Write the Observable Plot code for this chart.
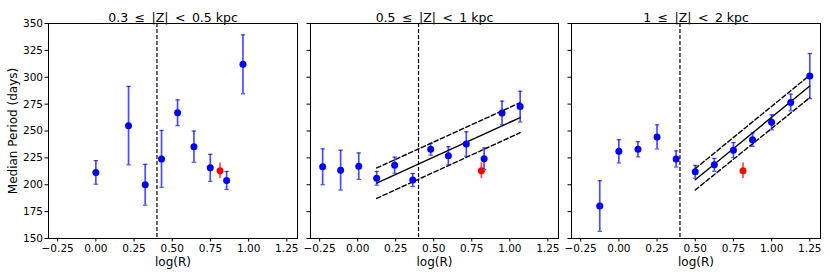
<!DOCTYPE html>
<html><head><meta charset="utf-8">
<script src="https://cdn.jsdelivr.net/npm/d3@7"></script>
<script src="https://cdn.jsdelivr.net/npm/@observablehq/plot@0.6"></script>
<style>
body{margin:0;background:#fff;}
#chart{position:relative;width:830px;height:277px;background:#fff;}
#chart svg{position:absolute;top:0;overflow:visible;}
</style></head><body><div id="chart"></div>
<script>
// ---- data ----
const panelTitles = ["0.3 \u2009\u2264\u2009 |Z| \u2009<\u2009 0.5 kpc", "0.5 \u2009\u2264\u2009 |Z| \u2009<\u2009 1 kpc", "1 \u2009\u2264\u2009 |Z| \u2009<\u2009 2 kpc"];
const xLabel = "log(R)";
const yLabel = "Median Period (days)";
const xTicks = [-0.25, 0, 0.25, 0.5, 0.75, 1.0, 1.25];
const yTicks = [150, 175, 200, 225, 250, 275, 300, 325, 350];
const xDomain = [-0.31, 1.32];
const yDomain = [150, 350];

const p1X   = [0.0, 0.214, 0.323, 0.43, 0.535, 0.642, 0.749, 0.856, 0.963];
const p1Y   = [211.5, 255, 200, 224, 267, 235.4, 215.7, 204, 312];
const p1Err = [11, 36.5, 19, 26.5, 12, 14.5, 12.6, 8.4, 27.4];

const p2X   = [-0.23, -0.112, 0.007, 0.125, 0.243, 0.362, 0.48, 0.596, 0.714, 0.831, 0.949, 1.068];
const p2Y   = [216.7, 213.6, 217.3, 206, 218.2, 204.5, 233, 226.9, 237.9, 224.2, 266.8, 272.7];
const p2Err = [16.7, 18.5, 12.3, 6.4, 7.5, 6, 5.5, 8.5, 11.4, 10, 11, 14.3];

const p3X   = [-0.125, 0, 0.125, 0.25, 0.375, 0.5, 0.625, 0.75, 0.875, 1.0, 1.125, 1.25];
const p3Y   = [180.2, 231.1, 233, 244.5, 224, 212, 218.5, 232.2, 241.9, 258.1, 276.5, 301.1];
const p3Err = [23.5, 10.8, 7.1, 11.2, 7.5, 6, 6, 7, 6.2, 7, 7.8, 21];

const refX = [0.813], refY = [213], refErr = [7.3];
const cutX = [0.4];

const fit2X = [0.125, 1.068];
const fit2Mid = [201.5, 262.5], fit2Up = [215.6, 276.4], fit2Lo = [187.3, 248.4];
const fit3X = [0.5, 1.25];
const fit3Mid = [204.6, 291.8], fit3Up = [215, 301.9], fit3Lo = [195.1, 281];

// ---- helpers ----
const rows = (xs, ys, es) => xs.map((x, i) => ({x, y: ys[i], lo: ys[i] - (es ? es[i] : 0), hi: ys[i] + (es ? es[i] : 0)}));
const capSymbol = {draw(ctx, size) { const w = Math.sqrt(size / Math.PI); ctx.moveTo(-w, 0); ctx.lineTo(w, 0); }};
const fmtX = d => d3.format(".2f")(d).replace("-", "\u2212");

const panels = [
  {left: 0,   width: 299, ml: 48, mr: 2,  pts: rows(p1X, p1Y, p1Err), fit: null},
  {left: 299, width: 261, ml: 11, mr: 2,  pts: rows(p2X, p2Y, p2Err), fit: {x: fit2X, mid: fit2Mid, up: fit2Up, lo: fit2Lo}},
  {left: 560, width: 270, ml: 11, mr: 10, pts: rows(p3X, p3Y, p3Err), fit: {x: fit3X, mid: fit3Mid, up: fit3Up, lo: fit3Lo}}
];
const ref = rows(refX, refY, refErr);

const chart = document.getElementById("chart");
panels.forEach((p, k) => {
  const marks = [
    Plot.frame({stroke: "#000", strokeWidth: 1}),
    Plot.axisY({ticks: yTicks, tickSize: 3.5, tickPadding: 2, tickFormat: k === 0 ? (d => d) : (() => ""), label: null, fontSize: 10.5}),
    Plot.axisX({ticks: xTicks, tickSize: 3.5, tickPadding: 2.5, tickFormat: fmtX, label: null, fontSize: 10.5}),
    Plot.ruleX(cutX, {stroke: "#000", strokeWidth: 1.2, strokeDasharray: "4,2"})
  ];
  if (p.fit) {
    const f = p.fit;
    const mk = arr => f.x.map((x, i) => ({x, y: arr[i]}));
    marks.push(
      Plot.line(mk(f.mid), {x: "x", y: "y", stroke: "#000", strokeWidth: 1.4}),
      Plot.line(mk(f.up), {x: "x", y: "y", stroke: "#000", strokeWidth: 1.4, strokeDasharray: "4.5,2.5"}),
      Plot.line(mk(f.lo), {x: "x", y: "y", stroke: "#000", strokeWidth: 1.4, strokeDasharray: "4.5,2.5"})
    );
  }
  marks.push(
    Plot.ruleX(p.pts, {x: "x", y1: "lo", y2: "hi", stroke: "blue", strokeOpacity: 0.7, strokeWidth: 1.7}),
    Plot.dot(p.pts, {x: "x", y: "lo", symbol: capSymbol, r: 2.2, stroke: "blue", strokeOpacity: 0.7, strokeWidth: 1.2, fill: "none"}),
    Plot.dot(p.pts, {x: "x", y: "hi", symbol: capSymbol, r: 2.2, stroke: "blue", strokeOpacity: 0.7, strokeWidth: 1.2, fill: "none"}),
    Plot.dot(p.pts, {x: "x", y: "y", r: 3.5, fill: "blue", stroke: null}),
    Plot.ruleX(ref, {x: "x", y1: "lo", y2: "hi", stroke: "red", strokeOpacity: 0.7, strokeWidth: 1.7}),
    Plot.dot(ref, {x: "x", y: "y", r: 3.5, fill: "red", stroke: null}),
    Plot.text([panelTitles[k]], {text: d => d, frameAnchor: "top", dy: -10, fontSize: 12.5, fill: "#000"}),
    Plot.text([xLabel], {text: d => d, frameAnchor: "bottom", dy: 27, lineAnchor: "bottom", fontSize: 12, fill: "#000"})
  );
  if (k === 0) {
    marks.push(Plot.text([yLabel], {text: d => d, frameAnchor: "left", dx: -35, rotate: -90, textAnchor: "middle", lineAnchor: "middle", fontSize: 12, fill: "#000"}));
  }
  const svg = Plot.plot({
    width: p.width, height: 277,
    marginLeft: p.ml, marginRight: p.mr, marginTop: 23, marginBottom: 39,
    x: {domain: xDomain},
    y: {domain: yDomain},
    style: {fontFamily: "DejaVu Sans", fontSize: "10.5px", color: "#000", background: "transparent", overflow: "visible"},
    marks
  });
  svg.style.left = p.left + "px";
  chart.appendChild(svg);
});
</script>
</body></html>
